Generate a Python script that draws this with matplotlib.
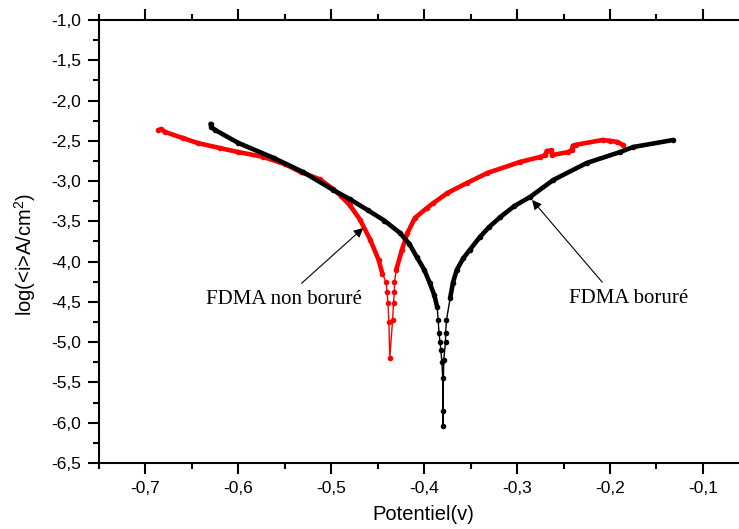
import matplotlib
matplotlib.use("Agg")
import matplotlib.pyplot as plt
from matplotlib.ticker import MultipleLocator, FuncFormatter
import numpy as np

plt.rcParams["font.family"] = ["Liberation Sans", "DejaVu Sans"]
plt.rcParams["mathtext.default"] = "regular"

# FDMA non boruré (red)
red_x = [-0.686, -0.683, -0.679, -0.660, -0.644, -0.620, -0.600, -0.573, -0.550, -0.533,
         -0.512, -0.498, -0.490, -0.480, -0.469, -0.458, -0.449, -0.445, -0.441, -0.440,
         -0.439, -0.438, -0.437, -0.434, -0.433, -0.432, -0.432, -0.430, -0.424, -0.418,
         -0.410, -0.397, -0.390, -0.375, -0.354, -0.332, -0.297, -0.275, -0.270, -0.268,
         -0.264, -0.262, -0.245, -0.241, -0.240, -0.237, -0.208, -0.200, -0.192, -0.186]
red_y = [-2.370, -2.355, -2.390, -2.465, -2.527, -2.590, -2.640, -2.700, -2.790, -2.887,
         -2.980, -3.100, -3.180, -3.300, -3.480, -3.730, -3.980, -4.150, -4.253, -4.377,
         -4.513, -4.749, -5.196, -4.724, -4.513, -4.377, -4.253, -4.100, -3.855, -3.644,
         -3.458, -3.334, -3.272, -3.148, -3.024, -2.900, -2.763, -2.700, -2.680, -2.626,
         -2.620, -2.676, -2.640, -2.614, -2.560, -2.550, -2.490, -2.500, -2.515, -2.552]

# FDMA boruré (black)
blk_x = [-0.630, -0.629, -0.625, -0.600, -0.562, -0.530, -0.498, -0.480, -0.461, -0.443,
         -0.426, -0.416, -0.408, -0.400, -0.394, -0.389, -0.386, -0.385, -0.384, -0.383,
         -0.382, -0.381, -0.380, -0.380, -0.380, -0.379, -0.377, -0.377, -0.376, -0.372,
         -0.369, -0.365, -0.358, -0.351, -0.340, -0.330, -0.318, -0.303, -0.286, -0.261,
         -0.225, -0.189, -0.175, -0.132]
blk_y = [-2.290, -2.330, -2.366, -2.527, -2.713, -2.890, -3.110, -3.225, -3.359, -3.490,
         -3.644, -3.780, -3.942, -4.100, -4.265, -4.420, -4.563, -4.724, -4.886, -4.998,
         -5.097, -5.246, -5.444, -5.854, -6.040, -5.221, -4.998, -4.886, -4.724, -4.450,
         -4.260, -4.104, -3.960, -3.855, -3.694, -3.570, -3.446, -3.310, -3.197, -2.986,
         -2.775, -2.639, -2.577, -2.490]

fig = plt.figure(figsize=(7.39, 5.29), dpi=100)
ax = fig.add_axes([0.134, 0.1248, 0.880, 0.8374])

for xs, ys, col, thr in [(red_x, red_y, "#ff0000", -4.2), (blk_x, blk_y, "black", -4.6)]:
    xs = np.array(xs)
    ys = np.array(ys)
    ax.plot(xs, ys, color=col, lw=1.0, marker="o", ms=3)
    # dense-data part looks like a thick band
    idx = np.where(ys > thr)[0]
    runs = np.split(idx, np.where(np.diff(idx) != 1)[0] + 1)
    for r in runs:
        ax.plot(xs[r], ys[r], color=col, lw=3.3, solid_capstyle="round",
                solid_joinstyle="round")

ax.annotate("FDMA non boruré", xy=(-0.4656, -3.582), xytext=(-0.5505, -4.526),
            ha="center", va="baseline", fontsize=15, family=["Liberation Serif"],
            arrowprops=dict(arrowstyle="-|>", color="black", lw=0.8, mutation_scale=14,
                            shrinkA=0, shrinkB=0, relpos=(0.61, 1.35)))
ax.annotate("FDMA boruré", xy=(-0.2839, -3.235), xytext=(-0.180, -4.513),
            ha="center", va="baseline", fontsize=15, family=["Liberation Serif"],
            arrowprops=dict(arrowstyle="-|>", color="black", lw=0.8, mutation_scale=14,
                            shrinkA=0, shrinkB=0, relpos=(0.28, 1.35)))

ax.set_xlim(-0.75, -0.05)
ax.set_ylim(-6.5, -1.0)
ax.xaxis.set_major_locator(MultipleLocator(0.1))
ax.xaxis.set_minor_locator(MultipleLocator(0.05))
ax.yaxis.set_major_locator(MultipleLocator(0.5))
ax.yaxis.set_minor_locator(MultipleLocator(0.25))
fmt = FuncFormatter(lambda v, p: f"{v:.1f}".replace(".", ",").replace("−", "-"))
ax.xaxis.set_major_formatter(fmt)
ax.yaxis.set_major_formatter(fmt)

ax.tick_params(axis="both", which="major", labelsize=12.5, width=1.5, length=8, direction="out", pad=5)
ax.tick_params(axis="both", which="minor", width=1.5, length=4, direction="out")
ax.tick_params(axis="x", which="both", top=True)
for s in ax.spines.values():
    s.set_linewidth(1.5)

ax.set_xlabel("Potentiel(v)", fontsize=14.5)
ax.set_ylabel("log(<i>A/cm$^{2}$)", fontsize=14.5)
ax.xaxis.set_label_coords((423 - 99) / 650.5, -0.095)
ax.yaxis.set_label_coords((38 - 99) / 650.5, 0.47)

fig.savefig("out.png", dpi=100)
